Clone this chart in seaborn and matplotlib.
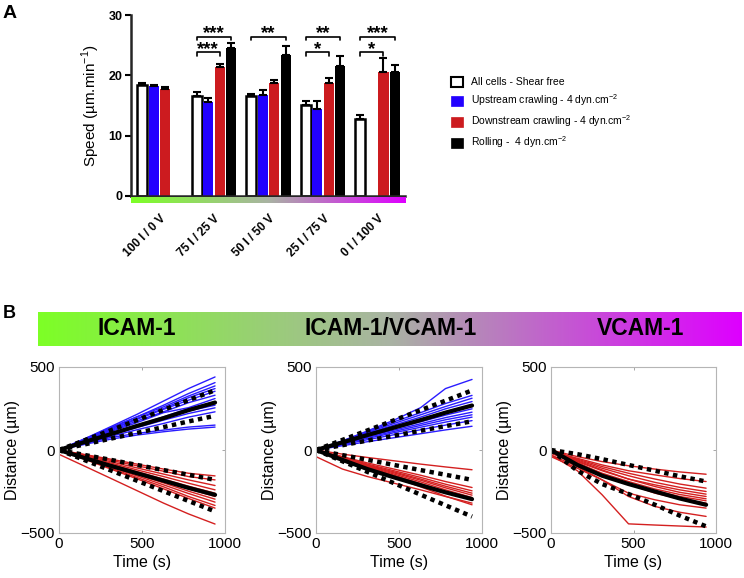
import numpy as np
import pandas as pd
import matplotlib
matplotlib.use("Agg")
import matplotlib.pyplot as plt
import matplotlib.colors as mcolors
from matplotlib.patches import Patch
import seaborn as sns

# ---------------- Panel A data ----------------
conditions = ["100 I / 0 V", "75 I / 25 V", "50 I / 50 V", "25 I / 75 V", "0 I / 100 V"]
groups = ["Shear free", "Upstream", "Downstream", "Rolling"]
legend_labels = ["All cells - Shear free",
                 "Upstream crawling - 4 dyn.cm$^{\\mathregular{-2}}$",
                 "Downstream crawling - 4 dyn.cm$^{\\mathregular{-2}}$",
                 "Rolling -  4 dyn.cm$^{\\mathregular{-2}}$"]
speed_free = [18.4, 16.6, 16.6, 15.1, 12.7]
speed_up = [18.2, 15.6, 16.8, 14.4, np.nan]
speed_down = [17.8, 21.4, 18.7, 18.8, 20.6]
speed_roll = [np.nan, 24.6, 23.3, 21.6, 20.5]
sem_free = [0.3, 0.7, 0.3, 0.7, 0.7]
sem_up = [0.2, 0.7, 0.8, 1.4, np.nan]
sem_down = [0.2, 0.4, 0.6, 0.8, 2.2]
sem_roll = [np.nan, 0.7, 1.5, 1.6, 1.2]

# significance brackets: condition index, from group, to group, height, label
sig_cond = [1, 1, 2, 3, 3, 4, 4]
sig_from = ["Shear free"] * 7
sig_to = ["Rolling", "Downstream", "Rolling", "Rolling", "Downstream", "Rolling", "Downstream"]
sig_y = [26.4, 23.8, 26.4, 26.4, 23.8, 26.4, 23.8]
sig_text = ["***", "***", "**", "**", "*", "***", "*"]

# ---------------- Panel B data ----------------
t_pts = [0, 160, 310, 470, 630, 780, 940]

icam_up = [
    [0, 70, 140, 215, 295, 370, 440],
    [0, 65, 130, 200, 270, 340, 406],
    [0, 70, 135, 200, 260, 325, 386],
    [0, 62, 125, 190, 250, 315, 370],
    [0, 60, 120, 185, 245, 300, 354],
    [0, 58, 115, 175, 230, 285, 330],
    [0, 55, 110, 165, 225, 255, 310],
    [0, 52, 100, 150, 200, 250, 290],
    [0, 50, 95, 140, 190, 235, 270],
    [0, 45, 90, 135, 180, 220, 254],
    [0, 42, 82, 122, 160, 198, 230],
    [0, 40, 75, 100, 120, 138, 150],
    [0, 35, 65, 90, 110, 126, 138],
]
icam_down = [
    [0, -28, -55, -85, -115, -140, -156],
    [0, -30, -62, -95, -128, -160, -180],
    [0, -35, -70, -108, -145, -180, -214],
    [0, -40, -78, -120, -160, -200, -240],
    [0, -42, -85, -130, -175, -218, -260],
    [0, -46, -92, -140, -188, -235, -280],
    [0, -48, -96, -148, -198, -248, -296],
    [0, -52, -102, -156, -210, -262, -314],
    [0, -55, -108, -166, -222, -280, -334],
    [0, -58, -114, -174, -234, -292, -350],
    [-26, -100, -170, -245, -320, -385, -446],
]
icam_up_mean = [0, 50, 95, 145, 192, 240, 286]
icam_up_hi = [0, 61, 118, 180, 242, 300, 360]
icam_up_lo = [0, 35, 68, 103, 138, 172, 206]
icam_down_mean = [0, -50, -95, -140, -185, -228, -270]
icam_down_hi = [0, -31, -59, -90, -121, -149, -180]
icam_down_lo = [0, -63, -122, -185, -248, -307, -370]

mix_up = [
    [0, 55, 115, 180, 255, 370, 425],
    [0, 55, 110, 170, 225, 280, 329],
    [0, 52, 105, 160, 212, 262, 312],
    [0, 50, 100, 150, 198, 248, 292],
    [0, 48, 95, 140, 185, 230, 272],
    [0, 45, 88, 130, 170, 210, 248],
    [0, 42, 82, 120, 158, 195, 228],
    [0, 40, 76, 112, 148, 182, 212],
    [0, 37, 70, 104, 137, 168, 198],
    [0, 32, 62, 92, 122, 150, 177],
    [0, 26, 50, 74, 98, 121, 143],
]
mix_down = [
    [0, -25, -45, -65, -85, -102, -119],
    [0, -40, -78, -115, -152, -190, -226],
    [0, -42, -85, -125, -165, -206, -246],
    [0, -45, -90, -132, -175, -218, -260],
    [0, -47, -94, -138, -182, -228, -272],
    [0, -50, -98, -145, -192, -240, -286],
    [0, -52, -102, -152, -202, -252, -300],
    [-40, -115, -160, -200, -240, -280, -320],
    [0, -55, -108, -165, -222, -278, -330],
]
mix_up_mean = [0, 46, 90, 135, 180, 225, 268]
mix_up_hi = [0, 61, 118, 179, 240, 297, 359]
mix_up_lo = [0, 29, 57, 86, 116, 144, 173]
mix_down_mean = [0, -60, -115, -165, -212, -255, -296]
mix_down_hi = [0, -31, -59, -90, -121, -149, -180]
mix_down_lo = [0, -68, -132, -200, -269, -333, -401]

vcam_down = [
    [0, -40, -70, -95, -115, -132, -146],
    [-10, -50, -90, -125, -150, -172, -190],
    [0, -55, -100, -140, -175, -205, -230],
    [0, -60, -110, -155, -195, -225, -250],
    [0, -70, -125, -175, -210, -240, -266],
    [0, -65, -120, -175, -220, -255, -280],
    [-20, -80, -140, -190, -235, -268, -294],
    [0, -75, -145, -200, -245, -280, -306],
    [0, -85, -150, -205, -260, -295, -320],
    [-30, -100, -180, -260, -300, -330, -350],
    [-40, -110, -180, -280, -340, -375, -400],
    [-30, -125, -270, -445, -452, -458, -464],
]
vcam_down_mean = [0, -90, -155, -205, -250, -292, -330]
vcam_down_hi = [0, -25, -55, -90, -125, -158, -190]
vcam_down_lo = [0, -125, -205, -265, -330, -395, -460]

panel_titles = ["ICAM-1", "ICAM-1/VCAM-1", "VCAM-1"]

# ---------------- style ----------------
sns.set_style("ticks")
plt.rcParams["font.family"] = ["Liberation Sans", "DejaVu Sans"]
plt.rcParams["mathtext.fontset"] = "custom"
plt.rcParams["mathtext.rm"] = "Liberation Sans"
for key in ["text.color", "axes.labelcolor", "xtick.color", "ytick.color"]:
    plt.rcParams[key] = "black"

bar_colors = ["#ffffff", "#2200ff", "#cc1b1f", "#000000"]
up_color = "#2a1cff"
down_color = "#d42020"
grad_cmap = mcolors.LinearSegmentedColormap.from_list(
    "icam_vcam", ["#7dff26", "#a9b3a3", "#de00ff"])
gradient = np.linspace(0, 1, 256)[None, :]

W, H = 744, 578
fig = plt.figure(figsize=(W / 100, H / 100), dpi=100)


def px_axes(left, top, right, bottom):
    return fig.add_axes([left / W, 1 - bottom / H, (right - left) / W, (bottom - top) / H])


# ---------------- Panel A ----------------
ax = px_axes(131, 15, 405, 196)
speeds = [speed_free, speed_up, speed_down, speed_roll]
sems = [sem_free, sem_up, sem_down, sem_roll]
rows = []
for g, vals in zip(groups, speeds):
    for c, v in zip(conditions, vals):
        if not np.isnan(v):
            rows.append({"condition": c, "group": g, "speed": v})
df = pd.DataFrame(rows)

sns.barplot(data=df, x="condition", y="speed", hue="group", order=conditions,
            hue_order=groups, palette=bar_colors, saturation=1, width=0.845,
            gap=0.12, errorbar=None, legend=False, linewidth=0, ax=ax)

centers = {}
for g, cont, err in zip(groups, ax.containers, sems):
    for p in cont.patches:
        xc = p.get_x() + p.get_width() / 2
        idx = int(round(xc))
        centers[(g, idx)] = xc
        if g == "Shear free":
            p.set_edgecolor("black")
            p.set_linewidth(1.8)
        ax.errorbar(xc, p.get_height(), yerr=[[0], [err[idx]]], color="black",
                    elinewidth=1.5, capsize=2.8, capthick=1.5, zorder=1)

for ci, gf, gt, y, txt in zip(sig_cond, sig_from, sig_to, sig_y, sig_text):
    x0, x1 = centers[(gf, ci)], centers[(gt, ci)]
    ax.plot([x0, x0, x1, x1], [y - 0.6, y, y, y - 0.6], color="black", lw=1.2,
            clip_on=False)
    ax.text((x0 + x1) / 2, y - 0.3, txt, ha="center", va="baseline",
            fontsize=13.5, fontweight="bold")

ax.set_xlim(-0.52, 4.5)
ax.set_ylim(0, 30)
ax.set_yticks([0, 10, 20, 30])
ax.set_xlabel("")
ax.set_ylabel("Speed (µm.min$^{\\mathregular{-1}}$)", fontsize=11, labelpad=5)
sns.despine(ax=ax)
for s in ["left", "bottom"]:
    ax.spines[s].set_linewidth(1.8)
ax.tick_params(axis="y", direction="out", length=4, width=1.5, labelsize=9, pad=2)
ax.tick_params(axis="x", direction="out", length=3, width=1.2, labelsize=8.5, pad=9)
for lab in ax.get_yticklabels():
    lab.set_fontweight("bold")
ax.set_xticks(range(len(conditions)))
ax.set_xticklabels(conditions, rotation=45, ha="right", rotation_mode="anchor",
                   fontweight="bold")

gax = px_axes(131, 197, 405, 203)
gax.imshow(gradient, aspect="auto", cmap=grad_cmap)
gax.axis("off")

handles = [Patch(facecolor=c, edgecolor="black" if i == 0 else c,
                 linewidth=1.5 if i == 0 else 0.5)
           for i, c in enumerate(bar_colors)]
fig.legend(handles, legend_labels, loc="upper left",
           bbox_to_anchor=(446 / W, 1 - 72 / H), frameon=False, fontsize=7.5,
           handlelength=1.1, handleheight=1.0, handletextpad=0.8,
           labelspacing=0.5, borderpad=0)

fig.text(3 / W, 1 - 5 / H, "A", fontsize=14, fontweight="bold", va="top")
fig.text(3 / W, 1 - 305 / H, "B", fontsize=13, fontweight="bold", va="top")

# ---------------- Panel B header ----------------
hax = px_axes(38, 312, 742, 346)
hax.imshow(gradient, aspect="auto", cmap=grad_cmap, extent=[38, 742, 0, 1])
hax.set_xlim(38, 742)
hax.axis("off")
for x, title in zip([137, 391, 641], panel_titles):
    hax.text(x, 0.5, title, ha="center", va="center", fontsize=16.5,
             fontweight="bold", color="black",
             family=["Liberation Sans Narrow", "Liberation Sans", "DejaVu Sans"])

# ---------------- Panel B trajectories ----------------
panels = [
    (icam_up, icam_down, [icam_up_mean, icam_down_mean],
     [icam_up_hi, icam_up_lo, icam_down_hi, icam_down_lo]),
    (mix_up, mix_down, [mix_up_mean, mix_down_mean],
     [mix_up_hi, mix_up_lo, mix_down_hi, mix_down_lo]),
    ([], vcam_down, [vcam_down_mean], [vcam_down_hi, vcam_down_lo]),
]
lefts = [59, 316, 551]
rights = [225, 482, 716]
for (ups, downs, means, bounds), l, r in zip(panels, lefts, rights):
    bx = px_axes(l, 367, r, 533)
    rows = []
    for k, tr in enumerate(ups):
        rows += [{"t": t, "d": d, "track": f"u{k}", "dir": "up"} for t, d in zip(t_pts, tr)]
    for k, tr in enumerate(downs):
        rows += [{"t": t, "d": d, "track": f"d{k}", "dir": "down"} for t, d in zip(t_pts, tr)]
    tdf = pd.DataFrame(rows)
    sns.lineplot(data=tdf, x="t", y="d", units="track", estimator=None, hue="dir",
                 palette={"up": up_color, "down": down_color}, lw=1.0,
                 legend=False, ax=bx)
    for m in means:
        sns.lineplot(x=t_pts, y=m, color="black", lw=3, ax=bx)
    for b in bounds:
        sns.lineplot(x=t_pts, y=b, color="black", lw=3.2, ls=(0, (1, 1)), ax=bx)
    bx.set_xlim(0, 1000)
    bx.set_ylim(-500, 500)
    bx.set_xticks([0, 500, 1000])
    bx.set_yticks([-500, 0, 500])
    bx.set_xlabel("Time (s)", fontsize=11.5, labelpad=3)
    bx.set_ylabel("Distance (µm)", fontsize=11.5, labelpad=0)
    for s in bx.spines.values():
        s.set_color("#b5b5b5")
        s.set_linewidth(0.8)
    bx.tick_params(direction="in", length=2.5, width=0.6, color="#999999",
                   labelsize=11, labelcolor="black", top=True, right=True, pad=3)

fig.savefig("out.png", dpi=100)
